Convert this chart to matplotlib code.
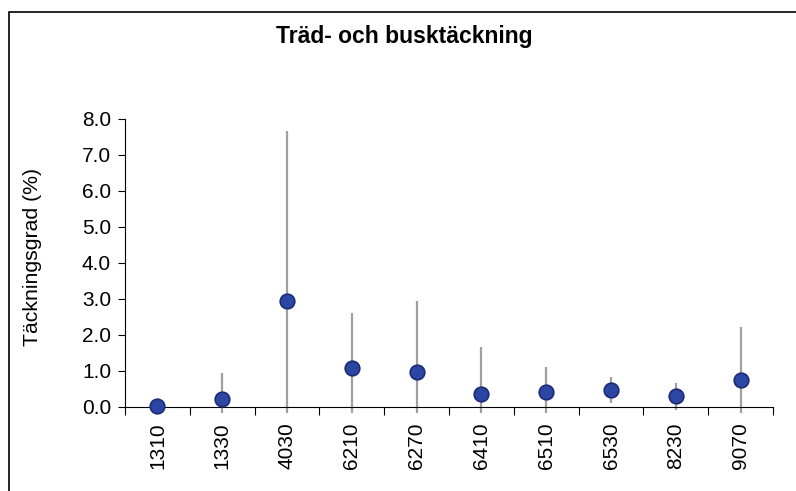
import numpy as np
import matplotlib
matplotlib.use("Agg")
import matplotlib.pyplot as plt
from matplotlib.patches import Rectangle

plt.rcParams['font.family'] = ['Liberation Sans', 'DejaVu Sans']

# Data
sites = ["1310", "1330", "4030", "6210", "6270", "6410", "6510", "6530", "8230", "9070"]
cover = [0.02, 0.23, 2.95, 1.07, 0.96, 0.35, 0.41, 0.47, 0.30, 0.74]
cover_err = [0.0, 0.72, 4.73, 1.55, 1.99, 1.33, 0.70, 0.37, 0.38, 1.49]

fig = plt.figure(figsize=(7.96, 4.91), dpi=100)
ax = fig.add_axes([125 / 796, 1 - 407 / 491, 648 / 796, 288 / 491])

x = np.arange(len(sites))
vals = np.array(cover)
errs = np.array(cover_err)
# bars stop just under the axis line, like in the original
lower = np.minimum(errs, vals + 0.17)

ax.errorbar(x, vals, yerr=[lower, errs], fmt="none", ecolor="#a0a0a0",
            elinewidth=1.6, capsize=0, clip_on=False, zorder=2)
ax.plot(x, vals, "o", markersize=10.5, markerfacecolor="#2b47a3",
        markeredgecolor="#1c2a78", markeredgewidth=1.2, clip_on=False, zorder=3)

ax.set_xlim(-0.5, len(sites) - 0.5)
ax.set_ylim(0, 8)
ax.set_yticks(np.arange(0, 8.1, 1.0))
ax.set_yticklabels([f"{v:.1f}" for v in np.arange(0, 8.1, 1.0)])
ax.set_xticks(x)
ax.set_xticklabels(sites, rotation=90)
ax.set_xticks(np.arange(-0.5, len(sites), 1.0), minor=True)

ax.tick_params(axis="y", direction="out", length=5, width=0.8, labelsize=15, pad=5)
ax.tick_params(axis="x", which="major", length=0, labelsize=15, pad=11)
ax.tick_params(axis="x", which="minor", direction="out", length=6, width=0.8)

for side in ["top", "right"]:
    ax.spines[side].set_visible(False)
for side in ["left", "bottom"]:
    ax.spines[side].set_linewidth(0.8)
    ax.spines[side].set_color("black")

fig.text(33 / 796, 1 - 257 / 491, "Täckningsgrad (%)", rotation=90,
         ha="center", va="center", fontsize=15.3)
fig.text(404 / 796, 1 - 43 / 491, "Träd- och busktäckning", ha="center",
         va="baseline", fontsize=16.5, fontweight="bold")

# chart frame, only left and top edges are inside the picture
fig.patches.append(Rectangle((9 / 796, -0.2), 1.2, 1.2 - 12 / 491,
                             transform=fig.transFigure, fill=False,
                             edgecolor="black", linewidth=1.2))

fig.savefig("out.png", dpi=100)
